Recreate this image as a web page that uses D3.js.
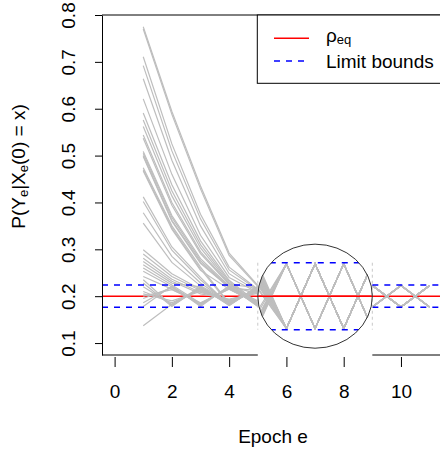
<!DOCTYPE html>
<html><head><meta charset="utf-8">
<script src="https://cdn.jsdelivr.net/npm/d3@7"></script>
<style>
body{margin:0;background:#fff}
text{font-family:"Liberation Sans",Arial,Helvetica,sans-serif;fill:#000}
</style>
</head><body><svg id="chart" width="440" height="453"></svg>
<script>
// ---------------- data ----------------
const epochs = [1, 2, 3, 4, 5, 6, 7, 8, 9, 10, 11];
const trajectories = [
  [0.775,0.594,0.435,0.292,0.223, 0.177,0.223,0.177,0.223,0.177,0.223],
  [0.770,0.588,0.429,0.287,0.221, 0.177,0.223,0.177,0.223,0.177,0.223],
  [0.711,0.525,0.375,0.262,0.215, 0.177,0.223,0.177,0.223,0.177,0.223],
  [0.692,0.510,0.365,0.256,0.213, 0.177,0.223,0.177,0.223,0.177,0.223],
  [0.664,0.490,0.350,0.248,0.210, 0.177,0.223,0.177,0.223,0.177,0.223],
  [0.621,0.460,0.330,0.240,0.208, 0.177,0.223,0.177,0.223,0.177,0.223],
  [0.591,0.438,0.318,0.234,0.185, 0.223,0.177,0.223,0.177,0.223,0.177],
  [0.576,0.425,0.310,0.231,0.183, 0.223,0.177,0.223,0.177,0.223,0.177],
  [0.562,0.414,0.303,0.228,0.181, 0.223,0.177,0.223,0.177,0.223,0.177],
  [0.544,0.400,0.295,0.226,0.180, 0.223,0.177,0.223,0.177,0.223,0.177],
  [0.537,0.394,0.291,0.225,0.218, 0.177,0.223,0.177,0.223,0.177,0.223],
  [0.509,0.372,0.280,0.222,0.205, 0.177,0.223,0.177,0.223,0.177,0.223],
  [0.505,0.368,0.276,0.220,0.190, 0.223,0.177,0.223,0.177,0.223,0.177],
  [0.500,0.362,0.272,0.219,0.188, 0.223,0.177,0.223,0.177,0.223,0.177],
  [0.498,0.360,0.270,0.218,0.212, 0.177,0.223,0.177,0.223,0.177,0.223],
  [0.474,0.350,0.262,0.185,0.216, 0.177,0.223,0.177,0.223,0.177,0.223],
  [0.470,0.346,0.258,0.183,0.219, 0.177,0.223,0.177,0.223,0.177,0.223],
  [0.467,0.343,0.255,0.215,0.184, 0.223,0.177,0.223,0.177,0.223,0.177],
  [0.412,0.305,0.240,0.180,0.220, 0.177,0.223,0.177,0.223,0.177,0.223],
  [0.402,0.298,0.235,0.182,0.217, 0.177,0.223,0.177,0.223,0.177,0.223],
  [0.378,0.285,0.228,0.186,0.214, 0.177,0.223,0.177,0.223,0.177,0.223],
  [0.356,0.272,0.222,0.188,0.213, 0.177,0.223,0.177,0.223,0.177,0.223],
  [0.299,0.248,0.215,0.190,0.210, 0.177,0.223,0.177,0.223,0.177,0.223],
  [0.290,0.242,0.212,0.188,0.212, 0.177,0.223,0.177,0.223,0.177,0.223],
  [0.281,0.236,0.208,0.192,0.209, 0.177,0.223,0.177,0.223,0.177,0.223],
  [0.274,0.232,0.205,0.194,0.206, 0.177,0.223,0.177,0.223,0.177,0.223],
  [0.267,0.228,0.220,0.185,0.215, 0.177,0.223,0.177,0.223,0.177,0.223],
  [0.260,0.224,0.185,0.218,0.183, 0.223,0.177,0.223,0.177,0.223,0.177],
  [0.253,0.220,0.182,0.220,0.181, 0.223,0.177,0.223,0.177,0.223,0.177],
  [0.242,0.215,0.184,0.216,0.184, 0.223,0.177,0.223,0.177,0.223,0.177],
  [0.235,0.180,0.218,0.183,0.218, 0.177,0.223,0.177,0.223,0.177,0.223],
  [0.228,0.178,0.220,0.180,0.221, 0.177,0.223,0.177,0.223,0.177,0.223],
  [0.220,0.182,0.216,0.184,0.217, 0.177,0.223,0.177,0.223,0.177,0.223],
  [0.210,0.186,0.214,0.188,0.213, 0.177,0.223,0.177,0.223,0.177,0.223],
  [0.205,0.190,0.210,0.190,0.211, 0.177,0.223,0.177,0.223,0.177,0.223],
  [0.200,0.214,0.186,0.215,0.185, 0.223,0.177,0.223,0.177,0.223,0.177],
  [0.195,0.218,0.183,0.218,0.182, 0.223,0.177,0.223,0.177,0.223,0.177],
  [0.186,0.220,0.180,0.221,0.179, 0.223,0.177,0.223,0.177,0.223,0.177],
  [0.178,0.222,0.178,0.222,0.178, 0.223,0.177,0.223,0.177,0.223,0.177],
  [0.137,0.183,0.219,0.181,0.220, 0.177,0.223,0.177,0.223,0.177,0.223]
];
const rhoEq = 0.2;
const limitBounds = [0.1762, 0.2238];
const zoomEpochs = [5, 9];
const zoomFactor = 3;
const zoomCenter = [7, 0.2];
const zoomRadius = [2, 0.111];
const xTicks = [0, 2, 4, 6, 8, 10];
const yTicks = [0.1, 0.2, 0.3, 0.4, 0.5, 0.6, 0.7, 0.8];
const legendLabels = ["ρ", "Limit bounds"];
const xDomain = [-0.44, 11.44];
const yDomain = [0.0745, 0.8];

// ---------------- drawing ----------------
const svg = d3.select("#chart");
svg.append("rect").attr("width",440).attr("height",453).attr("fill","#fff");
const FS = 19;
const x = d3.scaleLinear().domain(xDomain).range([102, 442.2]);
const y = d3.scaleLinear().domain(yDomain).range([355, 15]);
const mag = v => rhoEq + zoomFactor * (v - rhoEq);
const GRAY = "#bebebe";
const GW = 1.2;

const defs = svg.append("defs");
const ecx = x(zoomCenter[0]), ecy = y(zoomCenter[1]);
const erx = x(zoomCenter[0] + zoomRadius[0]) - ecx;
const ery = y(zoomCenter[1] - zoomRadius[1]) - ecy;
defs.append("clipPath").attr("id","lens")
  .append("ellipse").attr("cx",ecx).attr("cy",ecy).attr("rx",erx).attr("ry",ery);

const line = d3.line().x(d => x(d[0])).y(d => y(d[1]));

// red equilibrium line (below gray)
svg.append("line").attr("x1",x(xDomain[0])).attr("x2",x(xDomain[1]))
  .attr("y1",y(rhoEq)).attr("y2",y(rhoEq)).attr("stroke","#ff0000").attr("stroke-width",1.5);

// gray trajectories, normal scale (left and right of the lens)
const gOut = svg.append("g");
trajectories.forEach(t => {
  const left = epochs.map((e,i) => [e, t[i]]).filter(p => p[0] <= zoomEpochs[0]);
  gOut.append("path").attr("d", line(left)).attr("fill","none")
    .attr("stroke",GRAY).attr("stroke-width",GW);
  const right = epochs.map((e,i) => [e, t[i]]).filter(p => p[0] >= zoomEpochs[1]);
  gOut.append("path").attr("d", line(right)).attr("fill","none")
    .attr("stroke",GRAY).attr("stroke-width",GW);
});

// magnified part inside lens
const gLens = svg.append("g").attr("clip-path","url(#lens)");
trajectories.forEach(t => {
  const pts = epochs.map((e,i) => [e, mag(t[i])]).filter(p => p[0] >= zoomEpochs[0] && p[0] <= zoomEpochs[1]);
  gLens.append("path").attr("d", line(pts)).attr("fill","none")
    .attr("stroke",GRAY).attr("stroke-width",GW);
});
gLens.append("line").attr("x1",x(zoomEpochs[0])).attr("x2",x(zoomEpochs[1]))
  .attr("y1",y(rhoEq)).attr("y2",y(rhoEq)).attr("stroke","#ff0000").attr("stroke-width",1.5);
limitBounds.forEach(b => {
  gLens.append("line").attr("x1",x(zoomEpochs[0])).attr("x2",x(zoomEpochs[1]))
    .attr("y1",y(mag(b))).attr("y2",y(mag(b))).attr("stroke","#0000ff")
    .attr("stroke-width",1.5).attr("stroke-dasharray","6,6");
});

// blue limit bounds, normal scale
limitBounds.forEach(b => {
  svg.append("line").attr("x1",x(xDomain[0])).attr("x2",x(zoomEpochs[0]))
    .attr("y1",y(b)).attr("y2",y(b)).attr("stroke","#0000ff")
    .attr("stroke-width",1.5).attr("stroke-dasharray","6,6");
  svg.append("line").attr("x1",x(zoomEpochs[1])).attr("x2",x(xDomain[1]))
    .attr("y1",y(b)).attr("y2",y(b)).attr("stroke","#0000ff")
    .attr("stroke-width",1.5).attr("stroke-dasharray","6,6");
});

// vertical gray dotted markers at lens edges
zoomEpochs.forEach(e => {
  svg.append("line").attr("x1",x(e)).attr("x2",x(e))
    .attr("y1",y(mag(limitBounds[1]))).attr("y2",y(mag(limitBounds[0])))
    .attr("stroke","#c8c8c8").attr("stroke-width",1).attr("stroke-dasharray","3,3");
});

// lens outline
svg.append("ellipse").attr("cx",ecx).attr("cy",ecy).attr("rx",erx).attr("ry",ery)
  .attr("fill","none").attr("stroke","#333").attr("stroke-width",1);

// box (top, bottom with gap under the lens)
svg.append("line").attr("x1",x(xDomain[0])).attr("x2",x(xDomain[1])).attr("y1",y(yDomain[1])).attr("y2",y(yDomain[1])).attr("stroke","#000");
svg.append("line").attr("x1",x(xDomain[0])).attr("x2",x(zoomEpochs[0])).attr("y1",y(yDomain[0])).attr("y2",y(yDomain[0])).attr("stroke","#000");
svg.append("line").attr("x1",x(zoomEpochs[1])).attr("x2",x(xDomain[1])).attr("y1",y(yDomain[0])).attr("y2",y(yDomain[0])).attr("stroke","#000");

// y axis
const yAx = svg.append("g").attr("transform","translate(102,0)")
  .call(d3.axisLeft(y).tickValues(yTicks).tickSize(7).tickSizeOuter(0).tickFormat(d3.format(".1f")));
yAx.selectAll("path,line").attr("stroke","#000");
yAx.selectAll("text").attr("transform","rotate(-90)").attr("x",0).attr("y",-27)
  .attr("dy",null).attr("text-anchor","middle").style("font-size",FS+"px")
  .style("font-family",'"Liberation Sans",Arial,sans-serif');

// x axis (ticks only)
const xAx = svg.append("g").attr("transform","translate(0,357)")
  .call(d3.axisBottom(x).tickValues(xTicks).tickSize(10).tickFormat(d3.format("d")));
xAx.select(".domain").remove();
xAx.selectAll("line").attr("stroke","#000");
xAx.selectAll("text").attr("y",41).attr("dy",null).style("font-size",FS+"px")
  .style("font-family",'"Liberation Sans",Arial,sans-serif');

// axis titles
svg.append("text").attr("x",273).attr("y",443).attr("text-anchor","middle")
  .style("font-size",FS+"px").text("Epoch e");
const yl = svg.append("text").attr("transform","translate(25,166.5) rotate(-90)")
  .attr("text-anchor","middle").style("font-size",FS+"px");
yl.append("tspan").text("P(Y");
yl.append("tspan").attr("dy",3).style("font-size","13px").text("e");
yl.append("tspan").attr("dy",-3).text("|X");
yl.append("tspan").attr("dy",3).style("font-size","13px").text("e");
yl.append("tspan").attr("dy",-3).text("(0) = x)");

// legend
const lg = svg.append("g");
lg.append("rect").attr("x",257.3).attr("y",15).attr("width",x(xDomain[1]) - 257.3).attr("height",68.3)
  .attr("fill","#fff").attr("stroke","#000");
lg.append("line").attr("x1",274).attr("x2",309).attr("y1",38.3).attr("y2",38.3)
  .attr("stroke","#ff0000").attr("stroke-width",1.5);
lg.append("line").attr("x1",274).attr("x2",309).attr("y1",61).attr("y2",61)
  .attr("stroke","#0000ff").attr("stroke-width",1.5).attr("stroke-dasharray","6,6");
const t1 = lg.append("text").attr("x",326).attr("y",41.7).style("font-size",FS+"px");
t1.append("tspan").text(legendLabels[0]);
t1.append("tspan").attr("dy",2).style("font-size","13px").text("eq");
lg.append("text").attr("x",326).attr("y",68).style("font-size",FS+"px").text(legendLabels[1]);
</script></body></html>
